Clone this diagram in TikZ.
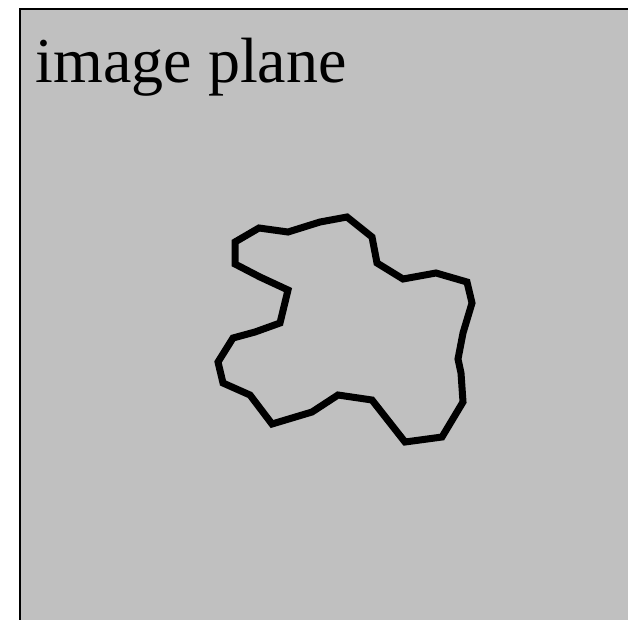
\documentclass[tikz,border=0pt]{standalone}
\usepackage{fontspec}
\setmainfont{Liberation Serif}
\definecolor{planegray}{HTML}{C0C0C0}
\begin{document}
\begin{tikzpicture}[x=1pt,y=-1pt,
  plane/.style={fill=planegray,draw=black,line width=2pt},
  contour/.style={draw=black,line width=7pt,line join=miter},
  label/.style={font=\fontsize{64}{70}\selectfont,inner sep=0pt,anchor=base west}]
\useasboundingbox (0,0) rectangle (628,619);
\path[plane] (19.5,8.5) rectangle (640,630);
\node[label] (title) at (35.5,82) {image plane};
\path[contour] (259,228) -- (288,232) -- (320,222) -- (347,217) -- (372,237) -- (377,263)
  -- (403,279) -- (436,273) -- (467,282) -- (472,303) -- (463,333) -- (458,359)
  -- (461,373) -- (463,402) -- (442,437) -- (405,442) -- (372,400) -- (338,395)
  -- (312,412) -- (272,424) -- (250,395) -- (223,383) -- (218,362) -- (233,338)
  -- (255,332) -- (280,323) -- (288,290) -- (260,277) -- (235,264) -- (235,242) -- cycle;
\end{tikzpicture}
\end{document}
